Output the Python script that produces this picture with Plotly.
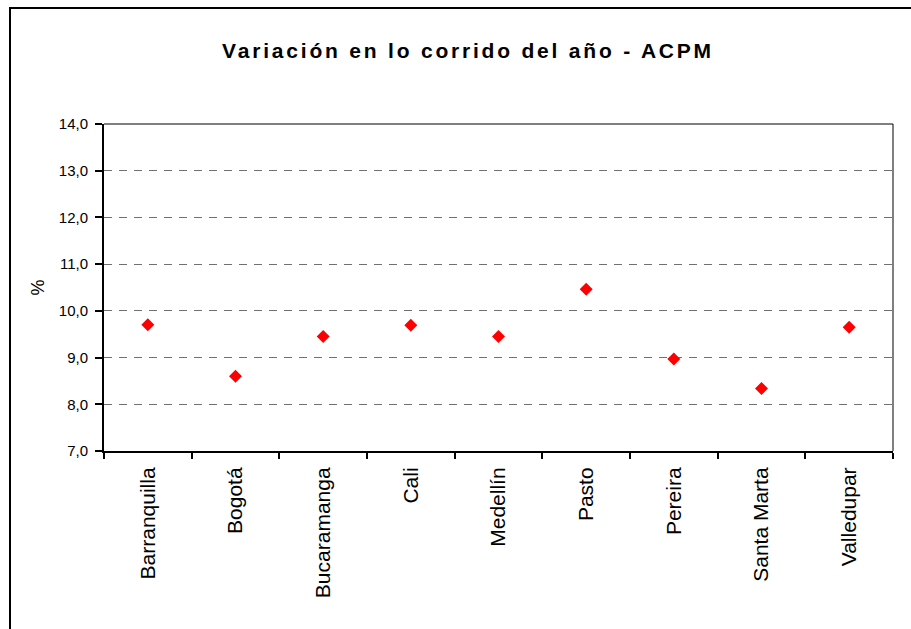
import plotly.graph_objects as go

# Year-to-date variation of ACPM (diesel) price by city, in percent
cities = ["Barranquilla", "Bogotá", "Bucaramanga", "Cali", "Medellín",
          "Pasto", "Pereira", "Santa Marta", "Valledupar"]
variation = [9.70, 8.60, 9.45, 9.69, 9.45, 10.46, 8.97, 8.34, 9.65]
y_ticks = [7, 8, 9, 10, 11, 12, 13, 14]

W, H = 911, 629
L, R, T, B = 104, 18, 124, 178
pw, ph = W - L - R, H - T - B

def px_x(x):
    return (x - L) / pw

def px_y(y):
    return (H - B - y) / ph

FONT = "Liberation Sans, Arial, sans-serif"

fig = go.Figure(
    go.Scatter(
        x=cities,
        y=variation,
        mode="markers",
        marker=dict(symbol="diamond", size=10, color="#ff0000",
                    line=dict(width=0)),
        hoverinfo="x+y",
    )
)

fig.update_layout(
    width=W,
    height=H,
    margin=dict(l=L, r=R, t=T, b=B),
    paper_bgcolor="white",
    plot_bgcolor="white",
    separators=",.",
    showlegend=False,
    title=dict(
        text="<b>Variación en lo corrido del año - ACPM</b>",
        font=dict(family=FONT, size=21, color="black"),
        xref="container", yref="container",
        x=468 / W, y=1 - 51 / H,
        xanchor="center", yanchor="middle",
    ),
    xaxis=dict(
        type="category",
        tickangle=-90,
        tickfont=dict(family=FONT, size=21, color="black"),
        ticks="outside",
        tickson="boundaries",
        ticklen=6,
        tickwidth=2,
        tickcolor="black",
        showline=True,
        linewidth=2,
        linecolor="black",
        showgrid=False,
        range=[-0.5, len(cities) - 0.5],
        ticklabelstandoff=6,
    ),
    yaxis=dict(
        range=[7, 14],
        tickvals=y_ticks,
        tickformat=".1f",
        tickfont=dict(family=FONT, size=15, color="black"),
        ticks="outside",
        ticklen=7,
        tickwidth=2,
        tickcolor="black",
        showline=True,
        linewidth=2,
        linecolor="black",
        showgrid=True,
        gridcolor="#707070",
        griddash="8px,7px",
        gridwidth=1,
        zeroline=False,
        ticklabelstandoff=4,
        title=dict(text="%", font=dict(family=FONT, size=18, color="black"),
                   standoff=9),
    ),
    shapes=[
        # thin frame on top and right of plot area
        dict(type="line", xref="paper", yref="paper", x0=0, x1=1, y0=1, y1=1,
             line=dict(color="black", width=1)),
        dict(type="line", xref="paper", yref="paper", x0=1, x1=1, y0=0, y1=1,
             line=dict(color="black", width=1)),
        # outer chart border
        dict(type="rect", xref="paper", yref="paper",
             x0=px_x(10), x1=px_x(918), y0=px_y(640), y1=px_y(8),
             line=dict(color="black", width=2), fillcolor="rgba(0,0,0,0)",
             layer="below"),
    ],
)

# widen the title's letter spacing
spacing_js = (
    "document.querySelectorAll('.gtitle').forEach(function(t){"
    "t.style.letterSpacing='2.8px';});"
)

fig.write_html("out.html", post_script=spacing_js)
